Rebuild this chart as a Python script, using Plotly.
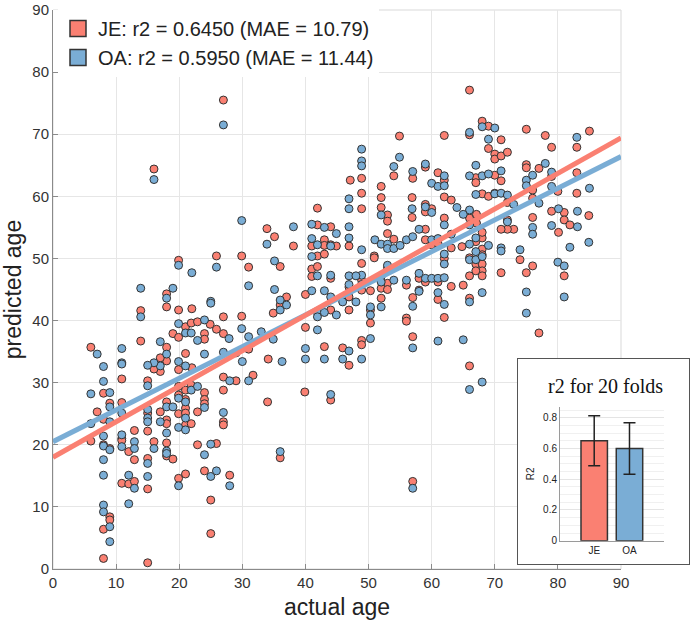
import plotly.graph_objects as go

# ---------------- data ----------------
je_points = [
    (27, 75.5), (16, 64.4),
    (47.1, 62.6), (48.9, 62.9), (48.9, 60.5), (52, 61.6), (54, 63.3), (54.9, 69.7), (57, 62.9), (59, 64.7),
    (61, 63.8), (62, 69.8), (62, 62.6),
    (66, 77.1), (68, 72.1), (69, 71.3), (66, 69.9), (75, 70.8), (78, 69.8), (83, 67.9), (85, 70.5), (71, 69.1),
    (69, 67.7), (79, 67.9), (70, 66.8), (70, 66.0), (71, 66.5), (72, 67.1), (67, 63.0), (67, 62.2), (70, 63.4),
    (71, 62.5), (75, 65.1), (75, 64.6), (76, 61.0), (77, 64.5), (79, 63.2), (80, 60.8), (83, 63.8), (83, 60.5),
    (68, 60.4), (69, 60.0), (70, 60.5),
    (19.9, 49.7), (25.9, 50.4), (29.9, 50.4), (31, 48.6), (18, 44.3), (18, 42.2), (13.9, 41.6), (19.9, 41.7),
    (22, 41.9), (27, 40.6), (29.9, 40.7), (13.9, 36.7), (6, 35.7), (10.9, 30.6), (15, 30.3), (19, 37.9),
    (19.9, 37.3), (21, 39.0), (21.9, 39.6), (22.9, 39.8), (24, 37.9), (24, 37.0), (24.9, 39.4), (25.9, 38.6),
    (27, 37.9), (29, 34.8), (31, 35.4), (18, 35.7), (18, 33.5), (17, 34.0), (17, 31.8), (16, 32.2), (21, 34.7),
    (19.9, 32.1), (22, 32.4), (27, 30.9), (29, 30.3),
    (48.9, 58.0), (52, 59.8), (52, 58.2), (53, 57.0), (53, 56.0), (56.9, 59.8), (56.9, 56.6), (59, 58.7),
    (59, 57.5), (60, 58.0), (41.9, 58.1), (41.9, 55.4), (44, 55.1), (33.9, 54.8), (35.1, 53.5), (38.1, 52.0),
    (41, 52.0), (43, 53.0), (43, 52.1), (44, 52.2), (44.9, 52.0), (46.9, 52.0), (48.9, 49.2), (41.9, 50.4),
    (41, 48.3), (41, 47.1), (41.9, 48.7), (43, 50.7), (44, 46.8), (48.9, 46.5), (48.9, 44.9), (50.3, 44.8),
    (46.9, 43.8), (46.9, 45.4), (53, 54.0), (54, 53.1), (59, 54.7), (59, 53.0), (60, 52.2), (50.9, 50.4),
    (50.9, 50.1), (53, 48.5), (52, 47.1), (53, 46.0), (52, 45.2), (53, 45.0), (56, 45.7), (58, 46.8),
    (59, 46.2), (61, 46.2), (58, 44.9), (57, 43.7), (61, 43.4), (52, 43.6), (50.3, 41.7), (50.3, 39.6),
    (48.9, 36.8), (48.9, 36.1), (46.9, 32.8), (45.9, 35.6), (43, 35.8), (34.1, 33.8), (31.7, 31.2), (56, 40.4),
    (56, 39.9), (57, 37.4), (40, 44.2), (44, 41.7), (46.9, 41.7), (40, 38.9), (34.9, 41.2), (36, 42.5),
    (37, 43.8), (36, 48.7),
    (62, 59.9), (63.1, 59.4), (66, 56.5), (67.1, 57.1), (67.1, 55.7), (72, 59.0), (76, 59.7), (79, 57.6),
    (81, 57.4), (81, 56.2), (84.9, 56.9), (81.9, 55.4), (80.1, 54.2), (76, 56.6), (72, 56.2), (73, 54.7),
    (72, 54.7), (71, 54.7), (74, 49.8), (76, 48.8), (75, 47.7), (71, 47.7), (77, 38.0), (81, 47.2), (62, 56.5),
    (61, 52.4), (63.1, 51.7), (62, 50.0), (63.1, 45.5), (65, 45.7), (62, 40.5), (66, 32.7), (66, 43.6),
    (66, 47.2), (66, 50.1), (67, 49.1), (68, 49.1), (68, 48.0), (67, 48.0), (68, 47.2), (68, 51.5),
    (64.8, 51.9), (67, 52.7), (68, 53.3), (68, 54.2), (68, 50.6),
    (8, 28.3), (9, 26.7), (7, 25.3), (8, 24.1), (6, 20.6), (8, 20.0), (9, 19.4), (9, 8.4), (9, 7.9), (8, 6.4),
    (8, 1.7), (10.9, 26.8), (10.9, 21.0), (10.9, 20.7), (12, 18.9), (12.9, 17.6), (12.9, 22.3), (10.9, 13.8),
    (12, 13.7), (12.9, 14.1), (15, 25.1), (15, 22.2), (15, 17.8), (15, 12.9), (15, 1.0), (16, 20.5),
    (17, 25.3), (18, 26.9), (18, 24.0), (18, 23.4), (18, 20.3), (18, 18.2), (19, 17.7), (19.9, 29.4),
    (19.9, 28.0), (19.9, 25.0), (19.9, 14.6), (21, 28.8), (21, 27.3), (21, 25.9), (21, 25.1), (21, 23.2),
    (21, 15.3), (21.9, 29.6), (21.9, 23.4), (22.9, 25.3), (22.9, 20.0), (24, 28.4), (24, 27.3), (24, 26.6),
    (24, 15.8), (25, 11.1), (25, 5.7), (25.9, 20.2), (27, 23.7), (27, 23.2), (27, 28.8), (28, 15.1),
    (34, 26.9), (39.9, 28.5), (44, 27.2), (36, 17.9), (57, 14.1),
]

oa_points = [
    (27, 71.5), (16, 62.7),
    (48.9, 67.6), (48.9, 65.7), (48.9, 64.9), (54, 64.8), (54.9, 66.3), (57, 64.0), (59, 65.2), (60, 62.1),
    (61, 61.6), (46.9, 59.6),
    (68, 71.2), (70, 71.0), (66, 70.3), (83, 69.5), (69, 69.2), (67, 65.0), (62, 63.3), (62, 61.7), (66, 63.3),
    (68, 63.3), (69, 63.6), (71, 64.1), (75, 62.6), (75, 61.7), (76, 63.4), (78, 65.3), (79, 63.9), (79, 61.6),
    (85, 61.3), (70, 60.4), (71, 60.5), (72, 60.2), (67, 60.3),
    (29.9, 56.1), (19.9, 48.9), (22, 47.7), (25.9, 48.6), (31, 45.6), (13.9, 45.2), (19, 45.2), (18, 43.6),
    (13.9, 40.6), (25, 43.1), (25, 42.8), (29.9, 38.7), (7, 34.6), (10.9, 35.5), (8, 32.6), (10.9, 33.2),
    (10.9, 33.0), (8, 30.2), (17, 36.6), (19.9, 39.5), (21, 38.0), (21.9, 38.0), (22.9, 36.8), (24, 40.1),
    (27.9, 37.1), (30, 33.4), (31, 37.4), (18, 34.6), (17, 32.7), (16, 33.2), (15, 32.8), (19.9, 33.4),
    (21, 32.7), (24, 34.6), (27, 34.9), (28, 30.3), (31, 30.3),
    (46.9, 58.0), (52, 57.0), (56.9, 58.0), (59, 58.3), (60, 57.4), (41, 55.5), (43, 55.0), (44.9, 54.0),
    (33.9, 52.3), (38.1, 55.1), (41, 53.2), (41.9, 52.2), (44, 52.0), (46.9, 55.1), (46.9, 53.3), (48.9, 51.4),
    (48.9, 47.3), (41, 50.3), (41.9, 47.2), (44, 47.3), (46.9, 47.2), (48, 47.2), (46.9, 45.8), (48.9, 45.8),
    (48, 43.0), (51, 53.0), (52, 52.3), (53, 52.3), (53, 51.6), (54, 51.6), (55, 52.1), (56, 53.0), (57, 53.5),
    (58, 54.7), (60, 53.0), (61, 53.2), (53, 48.9), (52, 46.2), (54, 46.5), (56, 46.5), (58, 47.6), (59, 46.8),
    (60, 46.8), (61, 46.8), (58, 44.7), (57, 42.3), (52, 42.2), (50.3, 42.2), (50.3, 40.9), (50.3, 37.1),
    (48.9, 33.8), (46.9, 35.1), (45.9, 33.8), (43, 33.8), (40, 35.5), (40, 33.8), (36.3, 33.4), (57, 35.6),
    (61, 36.7), (41, 44.8), (43, 44.8), (44, 43.8), (44.9, 40.9), (45.9, 43.0), (41.9, 41.3), (41.9, 40.6),
    (41.9, 38.5), (36, 41.7), (37, 42.5), (35.1, 45.0), (36, 43.3), (34.9, 37.0), (33, 38.2), (35.1, 49.6),
    (43, 41.3),
    (64, 58.2), (66, 57.8), (65, 57.1), (66, 55.4), (73, 58.7), (77, 58.9), (80.1, 58.0), (83.1, 57.6),
    (83.1, 55.1), (84.9, 52.6), (79, 55.3), (81.9, 51.8), (76, 55.0), (76, 53.9), (72, 55.9), (71, 51.7),
    (71, 51.2), (74, 51.4), (75, 44.6), (75, 41.2), (80, 49.4), (81, 48.8), (81, 43.8), (62, 55.4),
    (63.1, 53.9), (62, 50.7), (62, 49.1), (62, 46.9), (61, 44.5), (62, 42.6), (65, 36.9), (68, 30.1),
    (66, 43.0), (66, 49.8), (67, 49.8), (68, 50.3), (68, 44.5), (67, 51.1), (66, 52.3), (67, 53.3), (69, 52.1),
    (15, 29.5), (6, 28.2), (9, 28.4), (9, 26.1), (9, 23.7), (6, 23.4), (8, 21.4), (8, 19.8), (9, 19.2),
    (8, 17.6), (8, 15.1), (8, 10.3), (8, 9.2), (9, 6.8), (9, 4.4), (10.9, 25.1), (10.9, 21.6), (10.9, 19.7),
    (12.9, 20.5), (12.9, 19.4), (12, 15.1), (12.9, 13.0), (12, 10.5), (15, 25.7), (15, 24.3), (15, 23.7),
    (15, 17.0), (15, 14.9), (16, 19.4), (17, 23.7), (18, 26.1), (18, 21.9), (18, 19.0), (18, 18.6), (19, 26.1),
    (19.9, 27.5), (19.9, 22.8), (19.9, 13.4), (21, 26.9), (21, 24.3), (21, 22.4), (21.9, 28.8), (22.9, 29.4),
    (24, 26.0), (24, 18.4), (25, 14.9), (25, 20.1), (25.9, 15.8), (27, 25.2), (28, 13.4),
    (44, 28.1), (36, 18.9), (57, 13.0), (66, 28.9),
]

je_age = [p[0] for p in je_points]
je_pred = [p[1] for p in je_points]
oa_age = [p[0] for p in oa_points]
oa_pred = [p[1] for p in oa_points]

fit_x = [0, 90]
je_fit = [18.0, 69.4]
oa_fit = [20.5, 66.4]

je_label = "JE: r2 = 0.6450 (MAE = 10.79)"
oa_label = "OA: r2 = 0.5950 (MAE = 11.44)"

inset_cats = ["JE", "OA"]
inset_r2 = [0.650, 0.600]
inset_err = [0.163, 0.167]
inset_ticks = [0, 0.2, 0.4, 0.6, 0.8]

RED = "#FA8072"
BLUE = "#7AADD5"
EDGE = "#333333"
FONT = "Liberation Sans"

fig = go.Figure()

fig.add_trace(go.Scatter(x=je_age, y=je_pred, mode="markers", showlegend=False,
                         marker=dict(size=8, color=RED, line=dict(color=EDGE, width=1)),
                         xaxis="x", yaxis="y"))
fig.add_trace(go.Scatter(x=oa_age, y=oa_pred, mode="markers", showlegend=False,
                         marker=dict(size=8, color=BLUE, line=dict(color=EDGE, width=1)),
                         xaxis="x", yaxis="y"))
fig.add_trace(go.Scatter(x=fit_x, y=oa_fit, mode="lines", showlegend=False,
                         line=dict(color=BLUE, width=5), xaxis="x", yaxis="y"))
fig.add_trace(go.Scatter(x=fit_x, y=je_fit, mode="lines", showlegend=False,
                         line=dict(color=RED, width=5), xaxis="x", yaxis="y"))

# legend entries with square symbols
fig.add_trace(go.Scatter(x=[None], y=[None], mode="markers", name=je_label,
                         marker=dict(symbol="square", size=16, color=RED, line=dict(color=EDGE, width=1.5))))
fig.add_trace(go.Scatter(x=[None], y=[None], mode="markers", name=oa_label,
                         marker=dict(symbol="square", size=16, color=BLUE, line=dict(color=EDGE, width=1.5))))

# empty subplot acting as the white inset frame
fig.add_trace(go.Scatter(x=[None], y=[None], mode="markers", showlegend=False,
                         xaxis="x2", yaxis="y2", hoverinfo="skip"))

# inset bar chart
fig.add_trace(go.Bar(x=inset_cats, y=inset_r2, showlegend=False, width=0.75,
                     marker=dict(color=[RED, BLUE], line=dict(color=EDGE, width=1.5)),
                     error_y=dict(type="data", array=inset_err, color="#222222", thickness=1.5, width=6),
                     xaxis="x3", yaxis="y3"))

W_PLOT = 637.0
H_PLOT = 559.0

def px_x(p):
    return (p - 53) / W_PLOT

def px_y(p):
    return (569 - p) / H_PLOT

fig.update_layout(
    width=694, height=627,
    margin=dict(l=53, r=4, t=10, b=58, autoexpand=False),
    paper_bgcolor="white", plot_bgcolor="white",
    font=dict(family=FONT, color="#333333"),
    xaxis=dict(domain=[0, 568 / W_PLOT], range=[0, 90], dtick=10, anchor="y", automargin=False,
               showgrid=True, gridcolor="#e6e6e6", gridwidth=1, zeroline=False,
               showline=True, linecolor="#8a8a8a", linewidth=1,
               ticks="inside", ticklen=5, tickcolor="#8a8a8a", ticklabeloverflow="allow",
               tickfont=dict(size=15, color="#333333"),
               title=dict(text="actual age", font=dict(size=23, color="#222222"), standoff=8)),
    yaxis=dict(domain=[0, 1], range=[0, 90], dtick=10, anchor="x", automargin=False,
               showgrid=True, gridcolor="#e6e6e6", gridwidth=1, zeroline=False,
               showline=True, linecolor="#8a8a8a", linewidth=1,
               ticks="inside", ticklen=5, tickcolor="#8a8a8a", ticklabeloverflow="allow",
               tickfont=dict(size=15, color="#333333"),
               title=dict(text="predicted age", font=dict(size=23, color="#222222"), standoff=12)),
    xaxis2=dict(domain=[px_x(518), px_x(689)], range=[0, 1], anchor="y2", automargin=False,
                showgrid=False, zeroline=False, showticklabels=False, ticks="",
                showline=True, mirror=True, linecolor="#555555", linewidth=1.2),
    yaxis2=dict(domain=[px_y(564), px_y(359)], range=[0, 1], anchor="x2", automargin=False,
                showgrid=False, zeroline=False, showticklabels=False, ticks="",
                showline=True, mirror=True, linecolor="#555555", linewidth=1.2),
    xaxis3=dict(domain=[px_x(560), px_x(663.7)], range=[-0.97, 1.97], anchor="y3", automargin=False,
                type="category", showgrid=False, zeroline=False, ticks="",
                showline=True, linecolor="#9a9a9a", linewidth=1,
                tickfont=dict(size=10, color="#222222")),
    yaxis3=dict(domain=[px_y(540.7), px_y(407)], range=[0, 0.87], anchor="x3", automargin=False,
                tickvals=inset_ticks, ticks="", zeroline=False,
                showgrid=True, gridcolor="#e4e4e4", gridwidth=1,
                minor=dict(dtick=0.05, showgrid=True, gridcolor="#f0f0f0", gridwidth=1),
                showline=True, linecolor="#9a9a9a", linewidth=1,
                tickfont=dict(size=10, color="#222222"),
                title=dict(text="R2", font=dict(size=10, color="#222222"), standoff=6)),
    legend=dict(x=5 / W_PLOT, y=1 + 1 / H_PLOT, xanchor="left", yanchor="top", bgcolor="white",
                borderwidth=0, font=dict(size=20, color="#222222", family=FONT),
                tracegroupgap=0, itemsizing="trace"),
    shapes=[
        dict(type="rect", xref="x domain", yref="y domain", x0=0, x1=1, y0=0, y1=1,
             line=dict(color="#d9d9d9", width=1), layer="below"),
        dict(type="rect", xref="x domain", yref="y domain", x0=0, x1=7 / 568, y0=1 - 62 / H_PLOT, y1=1,
             fillcolor="white", line=dict(width=0), layer="below"),
    ],
    annotations=[
        dict(text="r2 for 20 folds", xref="paper", yref="paper",
             x=px_x(605), y=px_y(386), xanchor="center", yanchor="middle", showarrow=False,
             font=dict(family="Liberation Serif", size=20, color="#111111")),
    ],
)

# remove the default page margin so the figure fills the window exactly
fig.write_html("out.html",
               config={"displayModeBar": False},
               post_script="document.body.style.margin='0px'; document.body.style.overflow='hidden';")
